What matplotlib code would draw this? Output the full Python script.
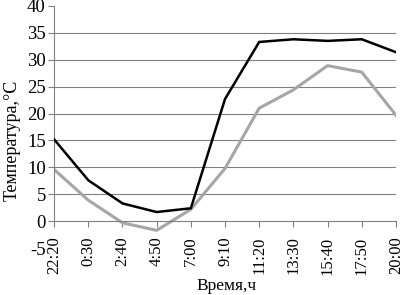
import matplotlib
matplotlib.use("Agg")
import matplotlib.pyplot as plt

plt.rcParams['font.family'] = ['Liberation Serif', 'DejaVu Serif']

times = ["22:20", "0:30", "2:40", "4:50", "7:00", "9:10", "11:20", "13:30", "15:40", "17:50", "20:00"]
temp_black = [15.2, 7.6, 3.3, 1.7, 2.4, 22.7, 33.3, 33.8, 33.5, 33.8, 31.4]
temp_gray = [9.6, 3.9, -0.3, -1.7, 2.2, 9.8, 21.0, 24.4, 28.9, 27.7, 19.7]
yticks = [-5, 0, 5, 10, 15, 20, 25, 30, 35, 40]

fig = plt.figure(figsize=(4.04, 2.95), dpi=100)
ax = fig.add_axes([0.134, 0.159, 0.846, 0.821])

# axis crosses at zero, set before tick labels (set_position resets ticks)
ax.spines['top'].set_visible(False)
ax.spines['right'].set_visible(False)
ax.spines['bottom'].set_position(('data', 0))
ax.spines['bottom'].set_color("#808080")
ax.spines['left'].set_color("#808080")
ax.spines['left'].set_bounds(0, 40)

x = list(range(len(times)))
for y in yticks[2:-1]:
    ax.axhline(y, color="#808080", linewidth=0.8, zorder=1)

ax.plot(x, temp_gray, color="#a6a6a6", linewidth=2.2, zorder=2)
ax.plot(x, temp_black, color="black", linewidth=1.8, zorder=3)

ax.set_xlim(0, len(times) - 1)
ax.set_ylim(-5, 40)
ax.set_yticks(yticks)
ax.set_yticklabels([str(v) for v in yticks], fontsize=13.5)
ax.set_xticks(x)
ax.set_xticklabels(times, rotation=90, fontsize=12)
ax.tick_params(axis='both', color="#808080", length=4, width=0.8, pad=2)
ax.tick_params(axis='x', pad=7)
ax.yaxis.get_major_ticks()[0].tick1line.set_visible(False)

ax.set_ylabel("Температура,°С", fontsize=13)
ax.yaxis.set_label_coords(-0.098, 0.446)
fig.text(0.56, 0.03, "Время,ч", fontsize=12.5, ha="center", va="center")

fig.savefig("out.png", dpi=100)
